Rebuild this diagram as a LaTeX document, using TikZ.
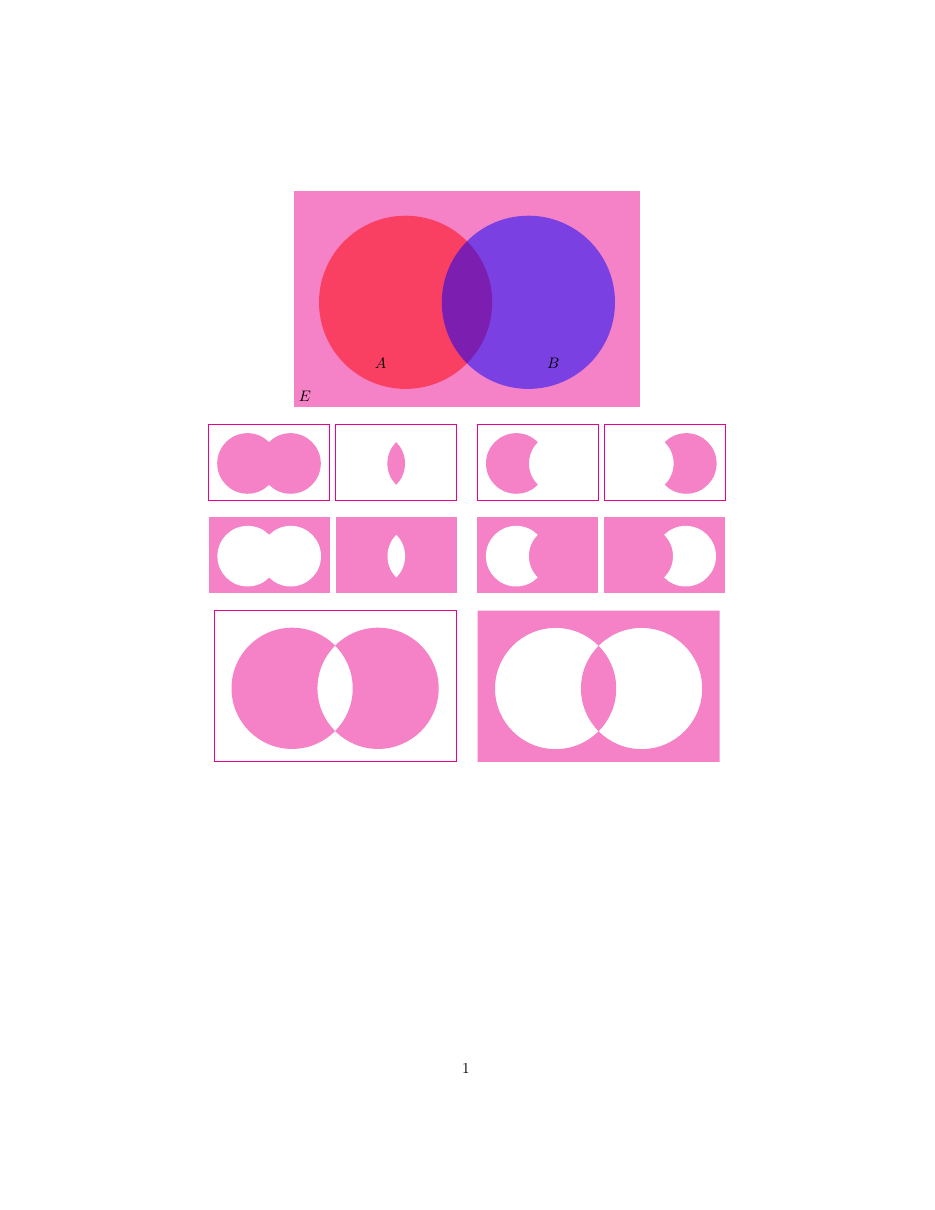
\documentclass[tikz,border=0pt]{standalone}
\definecolor{epink}{RGB}{245,130,198}
\definecolor{eborder}{RGB}{236,0,140}
\newcommand{\vennE}{(-173,-108) rectangle (173,108)}
\newcommand{\vennA}{(-61.4,3.3) circle (86.6)}
\newcommand{\vennB}{(61.4,3.3) circle (86.6)}
\tikzset{
  pinkfill/.style={fill=epink},
  whitefill/.style={fill=white},
  panelborder/.style={draw=eborder, line width=0.4pt},
  lbl/.style={inner sep=0pt, font=\normalsize},
}
\begin{document}
\begin{tikzpicture}[x=0.654545bp, y=-0.654545bp]
\useasboundingbox (0,0) rectangle (935,1210);
% main Venn diagram
\begin{scope}[shift={(467,299)}]
  \fill[pinkfill] \vennE;
  \fill[red, fill opacity=0.5] \vennA;
  \fill[blue, fill opacity=0.5] \vennB;
\end{scope}
\node[lbl] (la) at (380.7,363.5) {$A$};
\node[lbl] (lb) at (553.3,363.5) {$B$};
\node[lbl] (le) at (305,396.5) {$E$};
% row 1, panel 1: union
\begin{scope}[shift={(269,462.3)}, scale=0.35]
  \fill[pinkfill] \vennA;
  \fill[pinkfill] \vennB;
  \draw[panelborder] \vennE;
\end{scope}
% panel 2: intersection
\begin{scope}[shift={(396.2,462.3)}, scale=0.35]
  \begin{scope}
    \clip \vennA;
    \fill[pinkfill] \vennB;
  \end{scope}
  \draw[panelborder] \vennE;
\end{scope}
% panel 5: A minus B
\begin{scope}[shift={(537.8,462.3)}, scale=0.35]
  \begin{scope}
    \clip \vennA;
    \fill[pinkfill, even odd rule] \vennE \vennB;
  \end{scope}
  \draw[panelborder] \vennE;
\end{scope}
% panel 6: B minus A
\begin{scope}[shift={(664.8,462.3)}, scale=0.35]
  \begin{scope}
    \clip \vennB;
    \fill[pinkfill, even odd rule] \vennE \vennA;
  \end{scope}
  \draw[panelborder] \vennE;
\end{scope}
% row 2, panel 3: complement of union
\begin{scope}[shift={(269.2,555)}, scale=0.35]
  \fill[pinkfill] \vennE;
  \fill[whitefill] \vennA;
  \fill[whitefill] \vennB;
\end{scope}
% panel 4: complement of intersection
\begin{scope}[shift={(396.3,555)}, scale=0.35]
  \fill[pinkfill] \vennE;
  \begin{scope}
    \clip \vennA;
    \fill[whitefill] \vennB;
  \end{scope}
\end{scope}
% panel 7: complement of A minus B
\begin{scope}[shift={(537.7,555)}, scale=0.35]
  \fill[pinkfill] \vennE;
  \begin{scope}
    \clip \vennA;
    \fill[whitefill, even odd rule] \vennE \vennB;
  \end{scope}
\end{scope}
% panel 8: complement of B minus A
\begin{scope}[shift={(664.2,555)}, scale=0.35]
  \fill[pinkfill] \vennE;
  \begin{scope}
    \clip \vennB;
    \fill[whitefill, even odd rule] \vennE \vennA;
  \end{scope}
\end{scope}
% bottom row, panel 9: symmetric difference
\begin{scope}[shift={(335.1,686)}, scale=0.7]
  \fill[pinkfill, even odd rule] \vennA \vennB;
  \draw[panelborder] \vennE;
\end{scope}
% panel 10: complement of symmetric difference
\begin{scope}[shift={(598.6,686.2)}, scale=0.7]
  \fill[pinkfill, even odd rule] \vennE \vennA \vennB;
\end{scope}
% page number
\node[lbl] (pg) at (466,1068) {1};
\end{tikzpicture}
\end{document}
